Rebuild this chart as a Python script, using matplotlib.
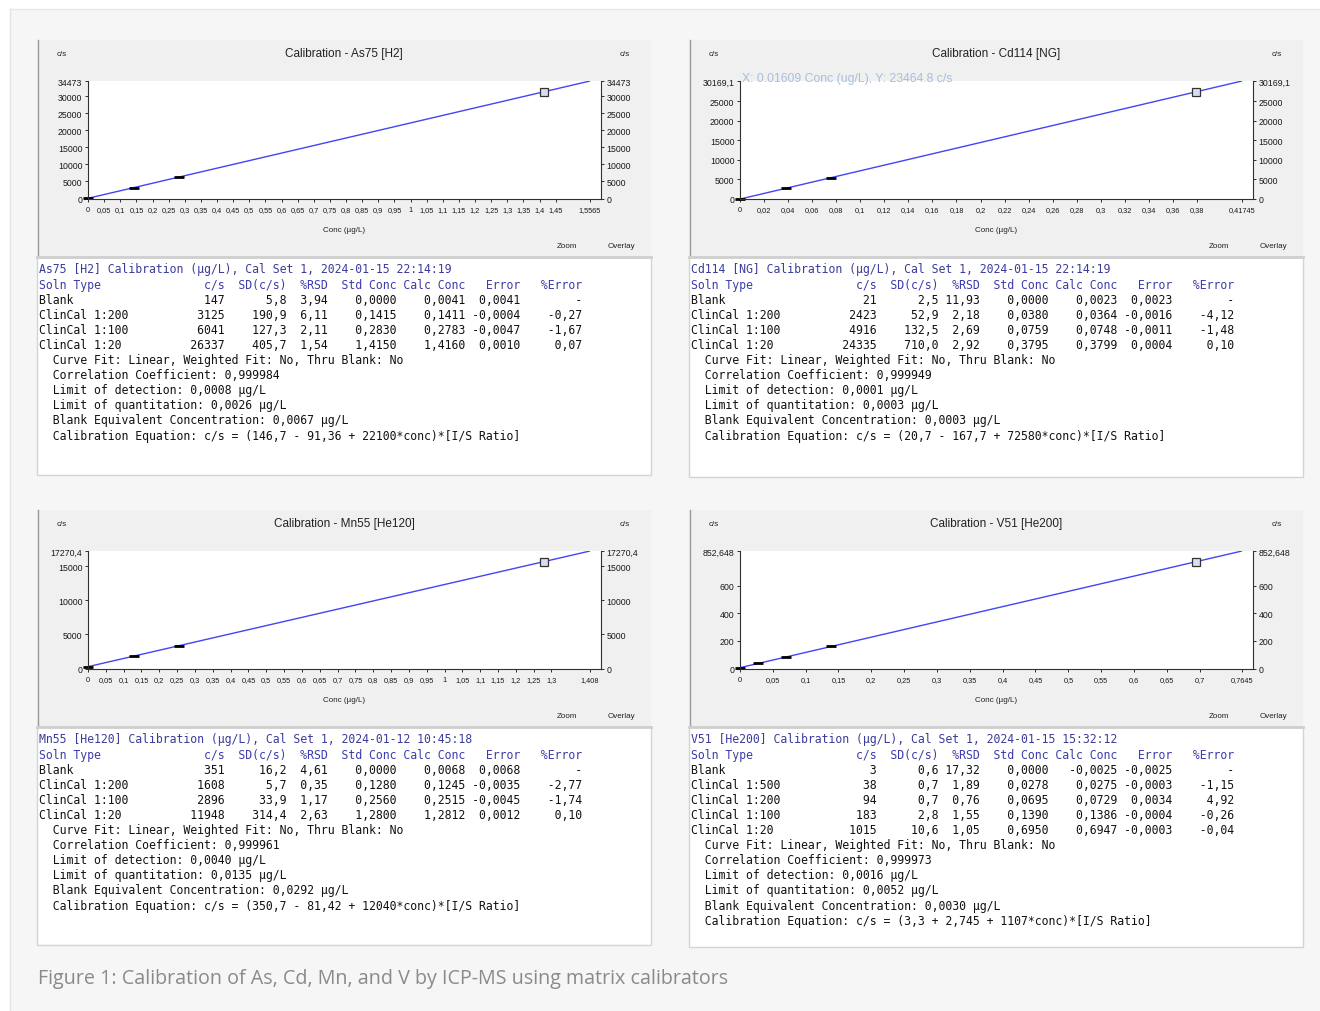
import numpy as np
import matplotlib
matplotlib.use('Agg')
import matplotlib.pyplot as plt
from matplotlib.patches import Rectangle
from matplotlib.lines import Line2D

W, H = 1320, 1012

# ---- As75 [H2] ----
as_title = 'Calibration - As75 [H2]'
as_line_x = [0, 1.5565]
as_line_y = [55, 34473]
as_pts_x = [0, 0.1415, 0.2830, 1.4150]
as_pts_y = [55, 3180, 6310, 31330]
as_xticks = [0, 0.05, 0.1, 0.15, 0.2, 0.25, 0.3, 0.35, 0.4, 0.45, 0.5, 0.55, 0.6, 0.65, 0.7, 0.75,
             0.8, 0.85, 0.9, 0.95, 1, 1.05, 1.1, 1.15, 1.2, 1.25, 1.3, 1.35, 1.4, 1.45, 1.5565]
as_yticks = [0, 5000, 10000, 15000, 20000, 25000, 30000, 34473]
as_head = 'As75 [H2] Calibration (µg/L), Cal Set 1, 2024-01-15 22:14:19'
as_rows = [('Blank', '147', '5,8', '3,94', '0,0000', '0,0041', '0,0041', '-'),
           ('ClinCal 1:200', '3125', '190,9', '6,11', '0,1415', '0,1411', '-0,0004', '-0,27'),
           ('ClinCal 1:100', '6041', '127,3', '2,11', '0,2830', '0,2783', '-0,0047', '-1,67'),
           ('ClinCal 1:20', '26337', '405,7', '1,54', '1,4150', '1,4160', '0,0010', '0,07')]
as_info = ['Correlation Coefficient: 0,999984',
           'Limit of detection: 0,0008 µg/L',
           'Limit of quantitation: 0,0026 µg/L',
           'Blank Equivalent Concentration: 0,0067 µg/L',
           'Calibration Equation: c/s = (146,7 - 91,36 + 22100*conc)*[I/S Ratio]']

# ---- Cd114 [NG] ----
cd_title = 'Calibration - Cd114 [NG]'
cd_line_x = [0, 0.41745]
cd_line_y = [-147, 30169.1]
cd_pts_x = [0, 0.0380, 0.0759, 0.3795]
cd_pts_y = [-147, 2610, 5360, 27400]
cd_xticks = [0, 0.02, 0.04, 0.06, 0.08, 0.1, 0.12, 0.14, 0.16, 0.18, 0.2, 0.22, 0.24, 0.26, 0.28,
             0.3, 0.32, 0.34, 0.36, 0.38, 0.41745]
cd_yticks = [0, 5000, 10000, 15000, 20000, 25000, 30169.1]
cd_head = 'Cd114 [NG] Calibration (µg/L), Cal Set 1, 2024-01-15 22:14:19'
cd_rows = [('Blank', '21', '2,5', '11,93', '0,0000', '0,0023', '0,0023', '-'),
           ('ClinCal 1:200', '2423', '52,9', '2,18', '0,0380', '0,0364', '-0,0016', '-4,12'),
           ('ClinCal 1:100', '4916', '132,5', '2,69', '0,0759', '0,0748', '-0,0011', '-1,48'),
           ('ClinCal 1:20', '24335', '710,0', '2,92', '0,3795', '0,3799', '0,0004', '0,10')]
cd_info = ['Correlation Coefficient: 0,999949',
           'Limit of detection: 0,0001 µg/L',
           'Limit of quantitation: 0,0003 µg/L',
           'Blank Equivalent Concentration: 0,0003 µg/L',
           'Calibration Equation: c/s = (20,7 - 167,7 + 72580*conc)*[I/S Ratio]']
cd_hover = 'X: 0.01609 Conc (ug/L), Y: 23464.8 c/s'

# ---- Mn55 [He120] ----
mn_title = 'Calibration - Mn55 [He120]'
mn_line_x = [0, 1.408]
mn_line_y = [270, 17270.4]
mn_pts_x = [0, 0.1280, 0.2560, 1.2800]
mn_pts_y = [270, 1810, 3350, 15680]
mn_xticks = [0, 0.05, 0.1, 0.15, 0.2, 0.25, 0.3, 0.35, 0.4, 0.45, 0.5, 0.55, 0.6, 0.65, 0.7, 0.75,
             0.8, 0.85, 0.9, 0.95, 1, 1.05, 1.1, 1.15, 1.2, 1.25, 1.3, 1.408]
mn_yticks = [0, 5000, 10000, 15000, 17270.4]
mn_head = 'Mn55 [He120] Calibration (µg/L), Cal Set 1, 2024-01-12 10:45:18'
mn_rows = [('Blank', '351', '16,2', '4,61', '0,0000', '0,0068', '0,0068', '-'),
           ('ClinCal 1:200', '1608', '5,7', '0,35', '0,1280', '0,1245', '-0,0035', '-2,77'),
           ('ClinCal 1:100', '2896', '33,9', '1,17', '0,2560', '0,2515', '-0,0045', '-1,74'),
           ('ClinCal 1:20', '11948', '314,4', '2,63', '1,2800', '1,2812', '0,0012', '0,10')]
mn_info = ['Correlation Coefficient: 0,999961',
           'Limit of detection: 0,0040 µg/L',
           'Limit of quantitation: 0,0135 µg/L',
           'Blank Equivalent Concentration: 0,0292 µg/L',
           'Calibration Equation: c/s = (350,7 - 81,42 + 12040*conc)*[I/S Ratio]']

# ---- V51 [He200] ----
v_title = 'Calibration - V51 [He200]'
v_line_x = [0, 0.7645]
v_line_y = [6, 852.648]
v_pts_x = [0, 0.0278, 0.0695, 0.1390, 0.6950]
v_pts_y = [6, 37, 83, 160, 775]
v_xticks = [0, 0.05, 0.1, 0.15, 0.2, 0.25, 0.3, 0.35, 0.4, 0.45, 0.5, 0.55, 0.6, 0.65, 0.7, 0.7645]
v_yticks = [0, 200, 400, 600, 852.648]
v_head = 'V51 [He200] Calibration (µg/L), Cal Set 1, 2024-01-15 15:32:12'
v_rows = [('Blank', '3', '0,6', '17,32', '0,0000', '-0,0025', '-0,0025', '-'),
          ('ClinCal 1:500', '38', '0,7', '1,89', '0,0278', '0,0275', '-0,0003', '-1,15'),
          ('ClinCal 1:200', '94', '0,7', '0,76', '0,0695', '0,0729', '0,0034', '4,92'),
          ('ClinCal 1:100', '183', '2,8', '1,55', '0,1390', '0,1386', '-0,0004', '-0,26'),
          ('ClinCal 1:20', '1015', '10,6', '1,05', '0,6950', '0,6947', '-0,0003', '-0,04')]
v_info = ['Correlation Coefficient: 0,999973',
          'Limit of detection: 0,0016 µg/L',
          'Limit of quantitation: 0,0052 µg/L',
          'Blank Equivalent Concentration: 0,0030 µg/L',
          'Calibration Equation: c/s = (3,3 + 2,745 + 1107*conc)*[I/S Ratio]']

col_names = ('Soln Type', 'c/s', 'SD(c/s)', '%RSD', 'Std Conc', 'Calc Conc', 'Error', '%Error')
fit_line = 'Curve Fit: Linear, Weighted Fit: No, Thru Blank: No'
caption = 'Figure 1: Calibration of As, Cd, Mn, and V by ICP-MS using matrix calibrators'

panels = [
    (0, 0, as_title, as_line_x, as_line_y, as_pts_x, as_pts_y, as_xticks, as_yticks, as_head, as_rows, as_info),
    (652, 0, cd_title, cd_line_x, cd_line_y, cd_pts_x, cd_pts_y, cd_xticks, cd_yticks, cd_head, cd_rows, cd_info),
    (0, 470, mn_title, mn_line_x, mn_line_y, mn_pts_x, mn_pts_y, mn_xticks, mn_yticks, mn_head, mn_rows, mn_info),
    (652, 470, v_title, v_line_x, v_line_y, v_pts_x, v_pts_y, v_xticks, v_yticks, v_head, v_rows, v_info),
]


def fx(x):
    return x / W


def fy(y):
    return 1 - y / H


fig = plt.figure(figsize=(W / 100, H / 100), dpi=100, facecolor='white')


def rect(x0, y0, x1, y1, **kw):
    fig.patches.append(Rectangle((fx(x0), fy(y1)), (x1 - x0) / W, (y1 - y0) / H,
                                 transform=fig.transFigure, zorder=-5, **kw))


def line(x0, y0, x1, y1, **kw):
    fig.lines.append(Line2D([fx(x0), fx(x1)], [fy(y0), fy(y1)], transform=fig.transFigure,
                            zorder=-4, **kw))


def txt(x, y, s, **kw):
    kw.setdefault('va', 'center')
    fig.text(fx(x), fy(y), s, **kw)


def fmt(v):
    return ('%g' % v).replace('.', ',')


def row_str(r):
    return f'{r[0]:<20}{r[1]:>7}{r[2]:>9}{r[3]:>6}{r[4]:>10}{r[5]:>10}{r[6]:>8}{r[7]:>9}'


# page background
rect(10, 10, W, H, facecolor='#f6f6f6', edgecolor='none')
line(10, 10, 10, H, color='#e4e4e4', lw=1)
line(10, 10, W, 10, color='#e8e8e8', lw=1)

small = dict(family='Liberation Sans', size=5.8, color='#222222')
mono = dict(family='DejaVu Sans Mono', size=8.3)

for ox, oy, title, lx, ly, px, py, xt, yt, head, rows, info in panels:
    # chart panel
    rect(ox + 37, oy + 41, ox + 651, oy + 258, facecolor='#f0f0f0', edgecolor='none')
    line(ox + 37.5, oy + 41, ox + 37.5, oy + 258, color='#9a9a9a', lw=1)
    # text panel
    rect(ox + 37, oy + 258, ox + 651, oy + 476 + (2 if ox else 0), facecolor='white',
         edgecolor='#d4d4d4', lw=1)
    line(ox + 37, oy + 258, ox + 651, oy + 258, color='#cfcfcf', lw=2)

    txt(ox + 344, oy + 54, title, ha='center', family='Liberation Sans', size=8.5, color='#222222')
    txt(ox + 62, oy + 55, 'c/s', ha='center', **small)
    txt(ox + 625, oy + 55, 'c/s', ha='center', **small)
    txt(ox + 344, oy + 230, 'Conc (µg/L)', ha='center', **small)
    txt(ox + 567, oy + 247, 'Zoom', ha='center', **small)
    txt(ox + 621, oy + 247, 'Overlay', ha='center', **small)

    ax = fig.add_axes([fx(ox + 88), fy(oy + 199.5), (601 - 88) / W, (199.5 - 82) / H])
    ax.set_facecolor('white')
    ax.plot(lx, ly, color='#4444f6', lw=1, solid_capstyle='butt')
    ax.plot(px[:-1], py[:-1], ls='none', marker='_', ms=7, mew=2, color='black', clip_on=False)
    ax.plot(px[-1:], py[-1:], ls='none', marker='s', ms=5.5, mew=0.9, mfc='#dcdcf0', mec='#333333')
    ax.set_xlim(0, xt[-1] * 513 / 502)
    ax.set_ylim(0, yt[-1])
    ax.set_xticks(xt)
    ax.set_xticklabels([fmt(v) for v in xt])
    ax.set_yticks(yt)
    ax.set_yticklabels([fmt(v) for v in yt])
    ax.spines['top'].set_visible(False)
    for s in ('left', 'right', 'bottom'):
        ax.spines[s].set_color('#303030')
        ax.spines[s].set_linewidth(0.8)
    ax.tick_params(axis='both', direction='out', length=2.5, width=0.7, color='#303030',
                   labelcolor='#1a1a1a')
    ax.tick_params(axis='y', right=True, labelright=True, labelsize=6.3, pad=1.5)
    ax.tick_params(axis='x', labelsize=5.3, pad=3)
    for lab in ax.get_xticklabels() + ax.get_yticklabels():
        lab.set_family('Liberation Sans')

    # calibration report text
    tx, ty, dy = ox + 39, oy + 270, 15.1
    lines = [(head, '#3b3b9c'), (row_str(col_names), '#3b3bac')]
    lines += [(row_str(r), '#111111') for r in rows]
    lines += [('  ' + fit_line, '#111111')] + [('  ' + s, '#111111') for s in info]
    for i, (s, c) in enumerate(lines):
        txt(tx, ty + i * dy, s, ha='left', color=c, **mono)

txt(742, 79, cd_hover, ha='left', family='Liberation Sans', size=8.8, color='#a9bedc', zorder=10)

txt(38, 979, caption, ha='left', family='Open Sans', size=14.2, color='#8a8a8a')

fig.savefig('out.png', dpi=100)
